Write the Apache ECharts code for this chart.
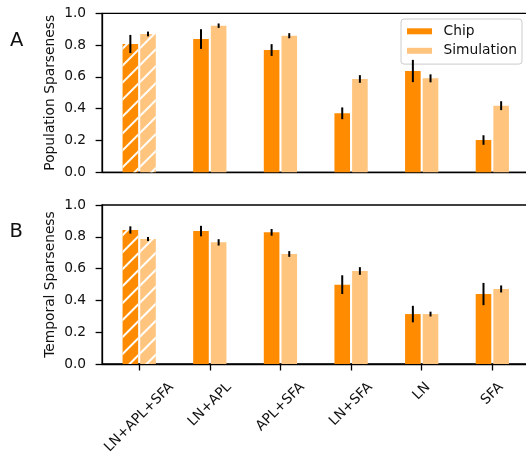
<!DOCTYPE html>
<html>
<head>
<meta charset="utf-8">
<script src="https://cdn.jsdelivr.net/npm/echarts@6/dist/echarts.min.js"></script>
<style>
  html, body { margin: 0; padding: 0; background: #fff; }
  #chart { width: 526px; height: 453px; }
</style>
</head>
<body>
<div id="chart"></div>
<script>
// Model variants shown along the x axis
const categories = ['LN+APL+SFA', 'LN+APL', 'APL+SFA', 'LN+SFA', 'LN', 'SFA'];

// Panel A: population sparseness (mean and error)
const popChip = [0.807, 0.838, 0.769, 0.371, 0.637, 0.203];
const popChipErr = [0.057, 0.062, 0.037, 0.037, 0.070, 0.030];
const popSim = [0.870, 0.922, 0.859, 0.587, 0.591, 0.419];
const popSimErr = [0.015, 0.014, 0.016, 0.024, 0.025, 0.028];

// Panel B: temporal sparseness (mean and error)
const tmpChip = [0.843, 0.836, 0.828, 0.499, 0.314, 0.440];
const tmpChipErr = [0.023, 0.033, 0.021, 0.059, 0.052, 0.070];
const tmpSim = [0.786, 0.765, 0.692, 0.585, 0.314, 0.472];
const tmpSimErr = [0.013, 0.020, 0.018, 0.024, 0.015, 0.022];

const yTicks = [0.0, 0.2, 0.4, 0.6, 0.8, 1.0];

const FONT = '"DejaVu Sans", sans-serif';
const FS = 13.8;
const CHIP = '#ff8c00';
const SIM = '#ffc57f';
const BAR_W = 15.6;
const BAR_GAP = 2.05;
const HALF_STEP = (BAR_W + BAR_GAP) / 2;

// Measure label widths so rotated labels can be centred under their ticks
const measureCtx = document.createElement('canvas').getContext('2d');
measureCtx.font = FS + 'px ' + FONT;
const rich = {};
categories.forEach((c, i) => {
  const w = measureCtx.measureText(c).width;
  rich['c' + i] = {
    fontFamily: FONT, fontSize: FS, color: '#111',
    padding: [w * 0.5, w * 0.5, 0, 0]
  };
});

// White "//" hatching for the full-model bars
const hatch = {
  symbol: 'rect', symbolSize: 1, color: '#ffffff',
  dashArrayX: [1, 0], dashArrayY: [2, 10], rotation: -Math.PI / 4
};

function barData(values) {
  return values.map((v, i) => i === 0
    ? { value: [i, v], itemStyle: { decal: hatch } }
    : [i, v]);
}

function errData(values, errs) {
  return values.map((v, i) => [i, v - errs[i], v + errs[i]]);
}

function errSeries(values, errs, axisIdx, dir) {
  return {
    type: 'custom',
    xAxisIndex: axisIdx, yAxisIndex: axisIdx,
    z: 5,
    silent: true,
    encode: { x: 0, y: [1, 2] },
    data: errData(values, errs),
    renderItem: function (params, api) {
      const lo = api.coord([api.value(0), api.value(1)]);
      const hi = api.coord([api.value(0), api.value(2)]);
      const x = lo[0] + dir * HALF_STEP;
      return {
        type: 'line',
        shape: { x1: x, y1: lo[1], x2: x, y2: hi[1] },
        style: { stroke: '#000', lineWidth: 2 }
      };
    }
  };
}

function barSeries(name, values, axisIdx, color) {
  return {
    name: name, type: 'bar',
    xAxisIndex: axisIdx, yAxisIndex: axisIdx,
    barWidth: BAR_W, barGap: (BAR_GAP / BAR_W * 100) + '%',
    itemStyle: { color: color },
    data: barData(values)
  };
}

const gridLeft = 102.1, gridWidth = 427.3;
const xMin = -0.525, xMax = 5.525;

function xAxis(gridIndex, showLabels) {
  return {
    type: 'value', gridIndex: gridIndex, min: xMin, max: xMax,
    splitLine: { show: false },
    axisLine: { show: true, onZero: false, lineStyle: { color: '#000', width: 1.3 } },
    axisTick: {
      show: showLabels, length: 6.5, customValues: [0, 1, 2, 3, 4, 5],
      lineStyle: { color: '#000', width: 1.3 }
    },
    axisLabel: {
      show: showLabels, customValues: [0, 1, 2, 3, 4, 5],
      rotate: 45, align: 'center', verticalAlign: 'middle', margin: 21,
      formatter: v => '{c' + v + '|' + categories[v] + '}',
      rich: rich
    }
  };
}

function yAxis(gridIndex, name) {
  return {
    type: 'value', gridIndex: gridIndex, min: 0, max: 1, interval: 0.2,
    name: name, nameLocation: 'middle', nameGap: 45, nameMoveOverlap: false,
    nameTextStyle: { fontFamily: FONT, fontSize: FS, color: '#111' },
    splitLine: { show: false },
    axisLine: { show: true, onZero: false, lineStyle: { color: '#000', width: 1.3 } },
    axisTick: { show: true, length: 6.5, lineStyle: { color: '#000', width: 1.3 } },
    axisLabel: {
      fontFamily: FONT, fontSize: FS, color: '#111', margin: 16,
      formatter: v => v.toFixed(1)
    }
  };
}

const gridBase = {
  left: gridLeft, width: gridWidth, height: 159,
  show: true, borderColor: '#000', borderWidth: 1.3,
  containLabel: false, outerBoundsMode: 'none'
};

const chart = echarts.init(document.getElementById('chart'), null, { renderer: 'canvas' });
chart.setOption({
  animation: false,
  backgroundColor: '#fff',
  grid: [
    Object.assign({ top: 13.3 }, gridBase),
    Object.assign({ top: 205 }, gridBase)
  ],
  xAxis: [xAxis(0, false), xAxis(1, true)],
  yAxis: [yAxis(0, 'Population Sparseness'), yAxis(1, 'Temporal Sparseness')],
  legend: {
    data: ['Chip', 'Simulation'],
    orient: 'vertical', left: 401, top: 19,
    icon: 'rect', itemWidth: 25, itemHeight: 6, itemGap: 5.5,
    padding: [5.3, 5, 6.3, 6],
    backgroundColor: 'rgba(255,255,255,0.8)',
    borderColor: '#cccccc', borderWidth: 1, borderRadius: 3,
    textStyle: { fontFamily: FONT, fontSize: FS, color: '#111', lineHeight: 14, padding: [0, 0, 0, 6.5] }
  },
  graphic: [
    { type: 'text', left: 10, top: 31, style: { text: 'A', fontFamily: FONT, fontSize: 19.5, fill: '#111' } },
    { type: 'text', left: 9.5, top: 222, style: { text: 'B', fontFamily: FONT, fontSize: 19.5, fill: '#111' } }
  ],
  series: [
    barSeries('Chip', popChip, 0, CHIP),
    barSeries('Simulation', popSim, 0, SIM),
    errSeries(popChip, popChipErr, 0, -1),
    errSeries(popSim, popSimErr, 0, 1),
    barSeries('Chip', tmpChip, 1, CHIP),
    barSeries('Simulation', tmpSim, 1, SIM),
    errSeries(tmpChip, tmpChipErr, 1, -1),
    errSeries(tmpSim, tmpSimErr, 1, 1)
  ]
});
</script>
</body>
</html>
